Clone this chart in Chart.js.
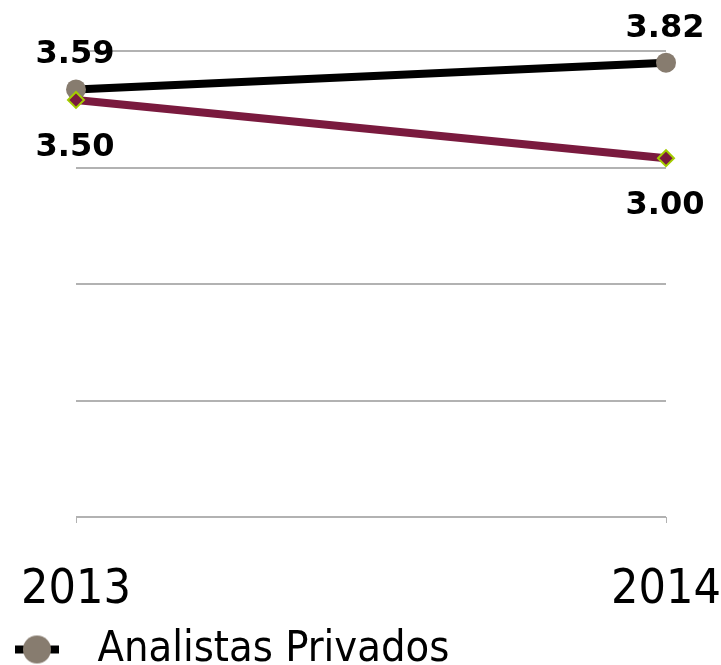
<!DOCTYPE html>
<html>
<head>
<meta charset="utf-8">
<script src="https://cdn.jsdelivr.net/npm/chart.js@4/dist/chart.umd.min.js"></script>
<style>
  html, body { margin: 0; padding: 0; background: #fff; overflow: hidden; }
  #wrap { position: relative; width: 721px; height: 681px; }
</style>
</head>
<body>
<div id="wrap"><canvas id="c"></canvas></div>
<script>
const categories = ['2013', '2014'];
const seriesNames = ['Analistas Privados', 'Serie 2'];
const analistasPrivados = [3.59, 3.82];
const serie2 = [3.50, 3.00];
const gridValues = [-0.08, 0.92, 1.92, 2.92, 3.92];

const condensed = '"DejaVu Sans Condensed", "DejaVu Sans", sans-serif';

// legend icon: line with circle marker
const icon = document.createElement('canvas');
icon.width = 72; icon.height = 30;
(function () {
  const g = icon.getContext('2d');
  g.strokeStyle = '#000'; g.lineWidth = 8;
  g.beginPath(); g.moveTo(11, 15); g.lineTo(55, 15); g.stroke();
  g.fillStyle = '#877c6f';
  g.beginPath(); g.arc(33, 15, 14, 0, Math.PI * 2); g.fill();
})();

const labelPlugin = {
  id: 'valueLabels',
  afterDatasetsDraw(chart) {
    const ctx = chart.ctx;
    ctx.save();
    ctx.font = 'bold 32px "DejaVu Sans", sans-serif';
    ctx.fillStyle = '#000';
    ctx.textAlign = 'center';
    ctx.textBaseline = 'alphabetic';
    chart.data.datasets.forEach((ds, di) => {
      const meta = chart.getDatasetMeta(di);
      meta.data.forEach((pt, i) => {
        const txt = ds.data[i].toFixed(2);
        const y = di === 0 ? pt.y - 26 : pt.y + 56;
        ctx.fillText(txt, pt.x - 1, y);
      });
    });
    ctx.restore();
  }
};

new Chart(document.getElementById('c'), {
  type: 'line',
  data: {
    labels: categories,
    datasets: [
      {
        label: seriesNames[0],
        data: analistasPrivados,
        borderColor: '#000000',
        borderWidth: 8,
        pointStyle: 'circle',
        pointRadius: 10,
        pointBackgroundColor: '#877c6f',
        pointBorderColor: '#877c6f',
        pointBorderWidth: 0,
        order: 2,
        tension: 0
      },
      {
        label: seriesNames[1],
        data: serie2,
        borderColor: '#7a1a3e',
        borderWidth: 8,
        pointStyle: 'rectRot',
        pointRadius: 8,
        pointBackgroundColor: '#7a1a3e',
        pointBorderColor: '#a4cc00',
        pointBorderWidth: 2,
        order: 1,
        tension: 0
      }
    ]
  },
  options: {
    responsive: true,
    maintainAspectRatio: false,
    animation: false,
    layout: { padding: { left: 0, right: 0, top: 51, bottom: 0 } },
    scales: {
      x: {
        offset: false,
        afterFit(scale) { scale.paddingLeft = 76; scale.paddingRight = 55; scale.height = 107; },
        grid: { display: true, drawOnChartArea: false, drawTicks: true, tickLength: 6, tickColor: '#b2b2b2', tickWidth: 1 },
        border: { display: false },
        ticks: { color: '#000', padding: 44, maxRotation: 0, font: { family: condensed, size: 48, lineHeight: 1 } }
      },
      y: {
        min: gridValues[0],
        max: gridValues[gridValues.length - 1],
        afterBuildTicks(scale) { scale.ticks = gridValues.map(v => ({ value: v })); },
        grid: { color: '#b2b2b2', lineWidth: 2, drawTicks: false },
        border: { display: false },
        ticks: { display: false }
      }
    },
    plugins: {
      tooltip: { enabled: false },
      legend: {
        position: 'bottom',
        align: 'start',
        labels: {
          filter: item => item.datasetIndex === 0,
          usePointStyle: true,
          pointStyle: icon,
          pointStyleWidth: 72,
          boxHeight: 30,
          padding: 4,
          color: '#000',
          font: { family: condensed, size: 43, lineHeight: 1 },
          generateLabels(chart) {
            return chart.data.datasets.map((ds, i) => ({
              text: ds.label, datasetIndex: i, pointStyle: icon,
              fillStyle: '#877c6f', strokeStyle: '#000', lineWidth: 0, fontColor: '#000', hidden: false
            }));
          }
        }
      }
    },
    clip: false
  },
  plugins: [labelPlugin]
});
</script>
</body>
</html>
